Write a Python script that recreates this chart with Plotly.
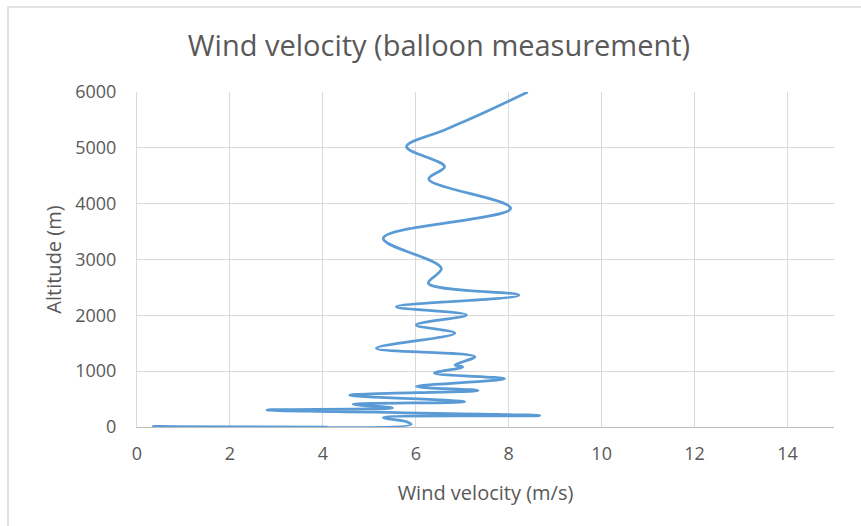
import plotly.graph_objects as go

# Balloon measurement: wind velocity (m/s) vs altitude (m), bottom to top
velocity = [4.1, 0.35, 5.9, 5.8, 5.3, 8.67, 2.8, 5.5, 4.65, 7.05, 4.58, 7.34, 6.01, 7.91,
            6.4, 7.01, 6.84, 7.27, 5.15, 6.84, 6.01, 7.09, 5.58, 8.22, 6.27, 6.55,
            5.30, 8.04, 6.28, 6.62, 5.80, 6.62, 7.44, 8.41]
altitude = [0, 5, 45, 95, 170, 205, 305, 340, 406, 453, 570, 655, 725, 865,
            965, 1075, 1110, 1260, 1410, 1680, 1827, 2006, 2155, 2360, 2574, 2842,
            3380, 3917, 4440, 4662, 5020, 5320, 5620, 6000]

x_ticks = [0, 2, 4, 6, 8, 10, 12, 14]
y_ticks = [0, 1000, 2000, 3000, 4000, 5000, 6000]

W, H = 861, 526
L, R, T, B = 137, 27, 92, 99
pw, ph = W - L - R, H - T - B

fig = go.Figure()
fig.add_trace(go.Scatter(
    x=velocity, y=altitude, mode="lines",
    line=dict(color="#5B9BD5", width=2.75, shape="spline", smoothing=1.0),
    showlegend=False, hoverinfo="x+y"))

grey = "#595959"
fig.update_layout(
    width=W, height=H,
    margin=dict(l=L, r=R, t=T, b=B),
    paper_bgcolor="white", plot_bgcolor="white",
    font=dict(family="Open Sans", color=grey),
    title=dict(text="Wind velocity (balloon measurement)",
               x=(439) / W, xanchor="center", y=1 - 46 / H, yanchor="middle",
               font=dict(size=29, color=grey, family="Open Sans")),
    xaxis=dict(range=[0, 15], tickvals=x_ticks, showgrid=True, gridcolor="#D9D9D9",
               gridwidth=1, zeroline=False, showline=True, linecolor="#BFBFBF",
               linewidth=1, ticks="", tickfont=dict(size=18, color=grey),
               ticklabelstandoff=10,
               title=dict(text="Wind velocity (m/s)", font=dict(size=20, color=grey),
                          standoff=22)),
    yaxis=dict(range=[0, 6000], tickvals=y_ticks, showgrid=True, gridcolor="#D9D9D9",
               gridwidth=1, zeroline=False, showline=True, linecolor="#D9D9D9",
               linewidth=1, ticks="", tickfont=dict(size=18, color=grey),
               ticklabelstandoff=16,
               title=dict(text="Altitude (m)", font=dict(size=20, color=grey),
                          standoff=8)),
)

# light chart-area border (left and top visible, extends past the window)
fig.add_shape(type="rect", xref="paper", yref="paper",
              x0=(8 - L) / pw, x1=(W + 20 - L) / pw,
              y0=(H - B - (H + 20)) / ph, y1=(H - B - 7) / ph,
              line=dict(color="#D9D9D9", width=1.5), layer="below")

fig.write_html("out.html")
